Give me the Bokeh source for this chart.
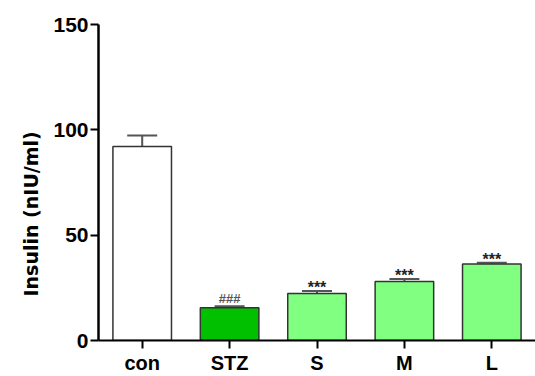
from bokeh.plotting import figure
from bokeh.models import FactorRange, Range1d, ColumnDataSource, Whisker, TeeHead, Title
from bokeh.core.properties import value
from bokeh.embed import file_html
from bokeh.resources import INLINE

categories = ["con", "STZ", "S", "M", "L"]
means = [92.1, 15.5, 22.3, 28.0, 36.3]
sems = [5.2, 0.7, 1.2, 1.2, 0.6]
marks = ["", "###", "***", "***", "***"]
fills = ["#FFFFFF", "#00C000", "#80FF80", "#80FF80", "#80FF80"]
y_ticks = [0, 50, 100, 150]
y_title = "Insulin (nIU/ml)"

uppers = [m + s for m, s in zip(means, sems)]
src = ColumnDataSource(dict(cat=categories, mean=means, upper=uppers, fill=fills))

hash_idx = [i for i, m in enumerate(marks) if m.startswith("#")]
star_idx = [i for i, m in enumerate(marks) if m.startswith("*")]
hash_src = ColumnDataSource(dict(cat=[categories[i] for i in hash_idx],
                                 upper=[uppers[i] for i in hash_idx],
                                 mark=[marks[i] for i in hash_idx]))
star_src = ColumnDataSource(dict(cat=[categories[i] for i in star_idx],
                                 upper=[uppers[i] for i in star_idx],
                                 mark=[marks[i] for i in star_idx]))

p = figure(width=535, height=376,
           x_range=FactorRange(*categories, range_padding=0),
           y_range=Range1d(0, 150),
           output_backend="svg", toolbar_location=None,
           min_border_left=98, min_border_right=0,
           min_border_top=24, min_border_bottom=0)
p.outline_line_color = None
p.xgrid.grid_line_color = None
p.ygrid.grid_line_color = None
p.background_fill_color = "white"
p.border_fill_color = "white"

p.vbar(x="cat", top="mean", width=0.67, fill_color="fill",
       line_color="#333333", line_width=1.5, source=src)

wh = Whisker(base="cat", lower="mean", upper="upper", source=src,
             line_color="#555555", line_width=2,
             upper_head=TeeHead(size=30, line_color="#555555", line_width=2),
             lower_head=None)
p.add_layout(wh)

p.text(x="cat", y="upper", text="mark", source=hash_src,
       text_align="center", text_baseline="alphabetic", y_offset=-8,
       text_font=value("Liberation Sans"), text_font_size="13px",
       text_font_style="bold", text_color="#555555")
p.text(x="cat", y="upper", text="mark", source=star_src,
       text_align="center", text_baseline="alphabetic", y_offset=-3,
       text_font=value("Liberation Sans"), text_font_size="16px",
       text_font_style="bold", text_color="#222222")

# y axis title, placed a little below centre as in the reference
ytitle = Title(text=y_title, align="left", offset=44, standoff=17,
               text_font="DejaVu Sans", text_font_size="19px",
               text_font_style="bold", text_color="#000000")
p.add_layout(ytitle, "left")

# y axis
p.yaxis.ticker = y_ticks
p.yaxis.major_label_text_font = "Liberation Sans"
p.yaxis.major_label_text_font_size = "21px"
p.yaxis.major_label_text_font_style = "bold"
p.yaxis.major_label_text_color = "#000000"
p.yaxis.major_label_standoff = 2
p.yaxis.axis_line_width = 2.5
p.yaxis.axis_line_color = "#000000"
p.yaxis.major_tick_line_width = 2
p.yaxis.major_tick_line_color = "#000000"
p.yaxis.major_tick_out = 8
p.yaxis.major_tick_in = 0
p.yaxis.minor_tick_line_color = None

# x axis
p.xaxis.major_label_text_font = "Liberation Sans"
p.xaxis.major_label_text_font_size = "20px"
p.xaxis.major_label_text_font_style = "bold"
p.xaxis.major_label_text_color = "#000000"
p.xaxis.major_label_standoff = 3
p.xaxis.axis_line_width = 2
p.xaxis.axis_line_color = "#000000"
p.xaxis.major_tick_line_width = 2
p.xaxis.major_tick_line_color = "#000000"
p.xaxis.major_tick_out = 8
p.xaxis.major_tick_in = 0
p.xaxis.minor_tick_line_color = None

open("out.html", "w").write(file_html(p, INLINE))
